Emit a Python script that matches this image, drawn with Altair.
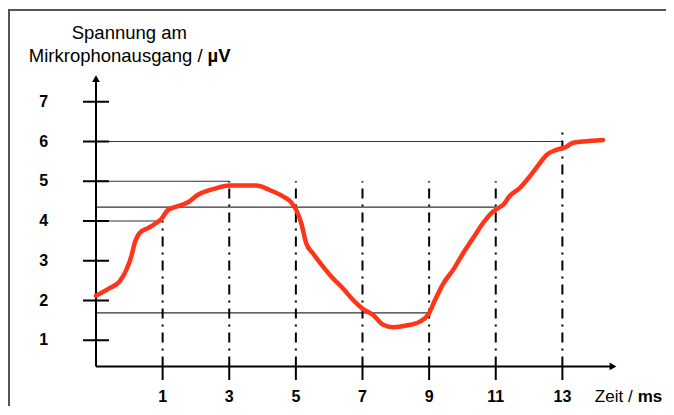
import altair as alt
import pandas as pd

# ---- data ----
zeit_ms = [-1.0, -0.59, -0.29, -0.09, 0.06, 0.16, 0.31, 0.56, 0.81, 0.96, 1.16, 1.41,
           1.76, 2.06, 2.51, 3.01, 3.81, 4.21, 4.61, 4.86, 5.01, 5.16, 5.31, 5.51,
           5.81, 6.11, 6.41, 6.71, 7.01, 7.31, 7.62, 7.92, 8.32, 8.72, 8.97, 9.17,
           9.42, 9.72, 10.02, 10.32, 10.62, 10.87, 11.07, 11.27, 11.37, 11.72, 12.02,
           12.32, 12.52, 12.82, 13.12, 13.32, 13.62, 14.22]
spannung_uv = [2.12, 2.31, 2.48, 2.77, 3.11, 3.44, 3.70, 3.82, 3.95, 4.05, 4.28, 4.36,
               4.47, 4.66, 4.80, 4.89, 4.89, 4.78, 4.62, 4.47, 4.28, 3.95, 3.44, 3.19,
               2.86, 2.56, 2.31, 2.02, 1.79, 1.64, 1.39, 1.33, 1.37, 1.47, 1.64, 2.00,
               2.42, 2.77, 3.19, 3.57, 3.95, 4.20, 4.32, 4.45, 4.58, 4.83, 5.12,
               5.45, 5.66, 5.79, 5.87, 5.97, 6.00, 6.04]

x_ticks = [1, 3, 5, 7, 9, 11, 13]
x_labels = ["1", "3", "5", "7", "9", "11", "13"]
y_ticks = [1, 2, 3, 4, 5, 6, 7]
y_labels = ["1", "2", "3", "4", "5", "6", "7"]

vline_x = [1, 3, 5, 7, 9, 11, 13]
vline_top = [4, 5, 5, 5, 5, 5, 6.37]

hline_y = [6, 5, 4.35, 4, 1.69]
hline_end = [13, 3, 11, 1, 9]

# axis geometry (data units)
X0 = -1.0      # where the y axis stands
Y0 = 0.34      # where the x axis lies
X_TIP = 14.63
Y_TIP = 7.67

FONT = "Liberation Sans"
RED = "#ff3519"

xs = alt.Scale(domain=[-1, 15], nice=False, zero=False)
ys = alt.Scale(domain=[0, 8], nice=False, zero=False)


def X(f):
    return alt.X(f, type="quantitative", scale=xs, axis=None)


def Y(f):
    return alt.Y(f, type="quantitative", scale=ys, axis=None)


curve_df = pd.DataFrame({"x": zeit_ms, "y": spannung_uv})
vl_df = pd.DataFrame({"x": vline_x, "top": vline_top, "bottom": [Y0] * len(vline_x)})
hl_df = pd.DataFrame({"y": hline_y, "x2": hline_end, "x1": [X0] * len(hline_y)})
xt_df = pd.DataFrame({"x": x_ticks, "lab": x_labels, "y1": [0.0] * len(x_ticks),
                      "y2": [Y0] * len(x_ticks), "ly": [-0.43] * len(x_ticks)})
yt_df = pd.DataFrame({"y": y_ticks, "lab": y_labels, "x1": [X0 - 0.39] * len(y_ticks),
                      "x2": [X0 + 0.39] * len(y_ticks), "lx": [-2.57] * len(y_ticks)})
axes_df = pd.DataFrame({"x1": [X0, X0], "x2": [X0, X_TIP - 0.1],
                        "y1": [Y0, Y0], "y2": [Y_TIP - 0.08, Y0]})
arrow_df = pd.DataFrame({"x": [X0, X_TIP - 0.11], "y": [Y_TIP - 0.09, Y0],
                         "shape": ["triangle-up", "triangle-right"]})
text_df = pd.DataFrame({
    "x": [0.0, 2.2, 2.35, 15.11, 15.26],
    "y": [8.73, 8.15, 8.15, -0.43, -0.43],
    "t": ["Spannung am", "Mirkrophonausgang /", "µV", "Zeit /", "ms"],
    "al": ["center", "right", "left", "right", "left"],
    "w": ["normal", "normal", "bold", "normal", "bold"],
    "fs": [18.5, 18.5, 18.5, 17, 17],
})

# frame around the figure (right and bottom edges fall outside the page)
frame = alt.Chart(pd.DataFrame({"a": [0]})).mark_rect(
    filled=False, stroke="#555555", strokeWidth=2, fill=None).encode(
    x=alt.value(-87), x2=alt.value(640), y=alt.value(-52), y2=alt.value(440))

hlines = alt.Chart(hl_df).mark_rule(color="#333333", strokeWidth=1.2).encode(
    x=X("x1"), x2="x2", y=Y("y"))

vlines = alt.Chart(vl_df).mark_rule(color="black", strokeWidth=2,
                                    strokeDash=[10, 6, 2, 6]).encode(
    x=X("x"), y=Y("bottom"), y2="top")

axes = alt.Chart(axes_df).mark_rule(color="black", strokeWidth=2).encode(
    x=X("x1"), x2="x2", y=Y("y1"), y2="y2")

arrows = alt.Chart(arrow_df).mark_point(filled=True, color="black", size=60, opacity=1).encode(
    x=X("x"), y=Y("y"), shape=alt.Shape("shape:N", scale=None, legend=None))

xticks = alt.Chart(xt_df).mark_rule(color="black", strokeWidth=2).encode(
    x=X("x"), y=Y("y1"), y2="y2")
xlabels = alt.Chart(xt_df).mark_text(font=FONT, fontSize=16, fontWeight="bold",
                                     baseline="middle", align="center").encode(
    x=X("x"), y=Y("ly"), text="lab:N")

yticks = alt.Chart(yt_df).mark_rule(color="black", strokeWidth=2).encode(
    x=X("x1"), x2="x2", y=Y("y"))
ylabels = alt.Chart(yt_df).mark_text(font=FONT, fontSize=16, fontWeight="bold",
                                     baseline="middle", align="center").encode(
    x=X("lx"), y=Y("y"), text="lab:N")

curve = alt.Chart(curve_df).mark_line(color=RED, strokeWidth=4.5, strokeCap="round",
                                      strokeJoin="round", interpolate="monotone").encode(
    x=X("x"), y=Y("y"))

texts = []
for i in range(len(text_df)):
    row = text_df.iloc[[i]]
    texts.append(alt.Chart(row).mark_text(font=FONT, fontSize=float(row["fs"].iloc[0]),
                                          baseline="middle",
                                          align=row["al"].iloc[0],
                                          fontWeight=row["w"].iloc[0],
                                          color="black").encode(
        x=X("x"), y=Y("y"), text="t:N"))

chart = alt.layer(frame, hlines, vlines, axes, xticks, yticks, arrows,
                  xlabels, ylabels, curve, *texts).properties(
    width=533, height=318,
    padding={"left": 88, "top": 54, "right": 37, "bottom": 26},
    autosize=alt.AutoSizeParams(type="none"),
).configure_view(strokeWidth=0)

chart.save("out.html", embed_options={"renderer": "svg", "actions": False})
